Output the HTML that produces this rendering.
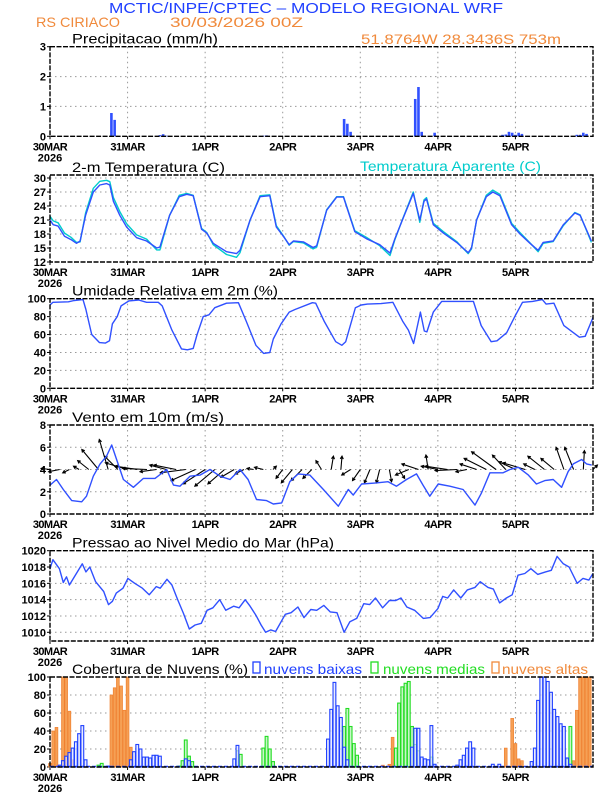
<!DOCTYPE html>
<html><head><meta charset="utf-8">
<style>
html,body{margin:0;padding:0;background:#fff;}
svg{display:block;font-family:"Liberation Sans",sans-serif;}
</style></head>
<body>
<svg id="chart" width="612" height="792" viewBox="0 0 612 792" xmlns="http://www.w3.org/2000/svg">
<text x="109" y="13" font-size="15" fill="#2040ff" textLength="394" lengthAdjust="spacingAndGlyphs">MCTIC/INPE/CPTEC – MODELO REGIONAL WRF</text>
<text x="36" y="27" font-size="14" fill="#f08a3c" textLength="84" lengthAdjust="spacingAndGlyphs">RS CIRIACO</text>
<text x="170" y="27" font-size="14" fill="#f08a3c" textLength="133" lengthAdjust="spacingAndGlyphs">30/03/2026 00Z</text>
<text x="361" y="44" font-size="14" fill="#f08a3c" textLength="200" lengthAdjust="spacingAndGlyphs">51.8764W 28.3436S 753m</text>
<g id="plots"></g>
</svg>
<script>
// ---- data (hours since 30MAR 00Z) ----
const dayLabels = ["30MAR","31MAR","1APR","2APR","3APR","4APR","5APR"];
const precipHours = [19,20,34,35,36,66,67,91,92,93,113,114,115,119,140,141,142,143,144,145,146,163,164,165,166];
const precipValues = [0.78,0.55,0.04,0.07,0.02,0.02,0.03,0.58,0.42,0.15,1.25,1.65,0.15,0.12,0.05,0.06,0.15,0.12,0.05,0.12,0.08,0.05,0.05,0.12,0.08];
const tempHours = [0,1,2.5,4.5,6.5,8.2,9.3,11,13.4,15.4,17.5,18.5,19.6,21.6,23.7,26.8,29.9,33,34,37,40,42.3,44.3,46.9,48.5,50.5,54.6,57.7,58.8,61.9,65,68,70,72.2,74,75.3,78.4,81.4,82.5,85.6,88.7,90.8,94.3,97.9,102,105.2,106.7,109.3,112.4,114.4,115.7,116.5,118.6,121.7,125.8,129.4,130.4,132,135,137,139.2,142.8,145.4,148.5,151,152.6,155.7,158.8,162.4,164,167.5];
const tempValues = [21,20,19.7,17.5,16.8,16,16.5,22,27,28.5,28.8,28.5,25,22,19.5,17.2,16.5,15,15.2,22,26,26.5,26.2,19,18.2,16,14.2,13.8,14.5,21,26,26.2,19.5,17.5,15.7,16.5,16.3,15.1,15.5,23.1,25.9,25.9,18.5,17,15.7,13.9,17,21.5,26.7,21,25,25.5,20,18.2,16.2,14,15,21,26,27,26.2,20,18,16,14.5,16.2,16.5,20,22.5,22,16.5];
const apparentValues = [21.8,20.8,20.4,18.2,17.3,16.2,16.3,22.5,27.8,29.3,29.5,29.2,25.8,22.8,20.2,17.8,16.9,14.6,14.6,22,26.3,26.7,26.3,19.2,18.3,15.7,13.6,13,14,21,26.2,26.4,19.8,17.6,15.6,16.4,16.1,14.8,15.2,23.2,26,26,18.7,17.3,15.5,13.4,16.8,21.6,27,20.5,25.3,25.8,20.3,18.5,16.4,13.8,14.8,21,26.3,27.4,26.5,20.3,18.3,16.1,14.2,16,16.4,19.8,22.6,22.1,16.2];
const rhHours = [0,0.9,5.7,7.5,10.2,11.1,12.9,15.3,17.1,18.4,19.3,20.8,22,24.4,27.4,29.9,33.5,34.7,37.7,40.7,42.5,44.3,45.5,47.4,49.2,51,54.6,58.3,60.7,63.7,66.1,68,69.1,71.5,74,75.8,81.2,82.2,84.8,88.4,90.3,91.5,94.5,96.3,98.2,102.4,106.1,109.1,110.9,112.5,114.6,115.8,116.6,118.6,121.2,131,133.4,136.5,138.3,141.3,143.8,146.2,149.3,152.3,153.5,155.9,159,163.8,165.6,168];
const rhValues = [93,96,96.5,98,99,88,60,51,50.5,53,72,80,92,97.5,98.5,96,96,92,65,44,43,44.5,60,80,82,90,95,95.5,75,48,39,40,55,72,85,88,95.5,95,75,52,48,52,90,93,94,94.5,96,75,65,50,85,64,63,85,97,97,70,52,53,62,80,96,97,99,94,95,70,57,58,79];
const windHours = [0,2,4.1,6.7,9.8,11.3,13.4,15.5,17.5,19.1,20.6,22.7,25.8,28.9,32.5,36.1,38.2,40.2,43.3,46.4,49.5,52.6,55.7,58.8,61.3,63.9,67,69.1,71.7,74.2,76.8,80.4,84.6,89.2,92.3,93.8,96.4,101,104.6,107.2,110.3,113.4,115.4,117.5,120.1,123.7,127.8,131.5,133.5,136.1,140.2,142.3,144.9,148,150.5,153.1,155.7,158.3,160.3,161.9,164.5,166,167.6];
const windSpeed = [2.6,3.1,2.2,1.2,1.1,1.6,3.4,4.5,5.2,6.2,4.9,3.1,2.4,3.2,3.2,4.0,2.6,2.5,3.4,3.5,4.0,3.4,3.1,4.0,3.1,1.3,1.2,0.9,1.0,2.9,3.6,3.5,2.2,0.7,2.2,1.7,2.7,2.8,2.9,2.5,3.1,3.6,2.6,1.6,2.7,2.5,2.2,0.8,1.9,3.7,3.7,4.0,4.2,3.5,2.7,3.0,3.1,2.4,3.8,4.5,4.9,4.5,4.4];
const arrowHours = [0,3,6,9,12,15,18,21,24,27,30,33,36,39,42,45,48,51,54,57,60,63,66,69,72,75,78,81,84,87,90,93,96,99,102,105,108,111,114,117,120,123,126,129,132,135,138,141,144,147,150,153,156,159,162,165,168];
const arrowU = [-0.8,-1,-0.6,-0.5,-1,-1.5,-0.8,-1.2,-2,-2,-2.2,-1.5,-1.5,-2,-2.3,-2.2,-2,-1.8,-1.5,-1.2,-0.8,-0.6,-0.8,0.3,-0.6,-1,-1,-0.8,-0.5,0.2,0.1,-0.8,-0.7,-0.5,-0.3,0.2,0.5,-1.2,-1.5,-0.2,-1.5,-2,-2,-1,-1.5,-2,-2.2,-1.2,-1.5,-2,-1,-1.5,-1.2,-0.7,-0.8,0.1,0.4];
const arrowV = [0.1,-0.2,-0.3,0.3,0.8,1.8,2.7,1.2,0.6,0.3,0.1,-0.2,0.4,0.4,-0.3,-1,-1.3,-1.5,-1.3,-0.7,-0.4,0.1,0.2,0.3,-0.8,-1.2,-1,-0.8,0.8,1.2,1.2,-0.5,-1,-1.2,-1.2,-1.1,-0.8,-0.5,0.5,1.3,0.3,0.3,-0.1,-0.2,0.5,1,1.6,1.3,0.7,0.6,0.5,1.2,1,2,2,1.7,0.4];
const presHours = [0,0.9,2.9,4.1,5.1,6,10,11.1,12.3,14.1,16.6,18.1,19.3,20.5,22.6,24.1,26.2,28.6,30.7,32.9,34.1,36.2,37.7,39.5,41.3,43.1,44.9,46.8,48.6,50.4,52.5,54.4,56.8,58.5,60.4,61.9,63.7,65.3,66.7,68.3,69.8,72.8,74.6,76.7,78.6,80.7,82.5,84.7,86.7,88.8,91,92.8,94.9,97.1,98.9,100.7,102.9,105,107,108.6,110.4,112.8,115.5,117.6,120,121.5,123,124.9,127.1,129.1,131.5,133.1,135.5,137.2,139.1,141.2,143,144.8,146.9,148.8,150.9,153.3,155.1,156.9,158.8,160.6,163.1,164.9,166.7,168];
const presValues = [1017.8,1018.9,1017.8,1016.1,1016.8,1015.8,1018.4,1017.4,1018,1016.2,1015,1013.4,1013.8,1014.8,1015.4,1016.6,1016,1015.4,1014.6,1015.6,1015.4,1016.5,1015.8,1014,1012.3,1010.4,1010.9,1011.1,1012.7,1013,1014,1012.7,1013.2,1013,1014,1013.2,1012.1,1010.9,1010,1010.3,1010.1,1012.2,1012.4,1013.1,1011.8,1012.8,1012.7,1013.3,1012.5,1012.4,1010,1011.3,1011.7,1013.5,1013.4,1014.2,1013,1013.9,1013.9,1014.2,1013.1,1012.7,1011.7,1011.8,1012.9,1014.4,1014.2,1015.2,1014.2,1015.2,1015.5,1016.2,1015.5,1015.3,1013.6,1014.2,1014.6,1017,1017.2,1017.8,1017.1,1017.4,1017.6,1019.3,1018.4,1018,1016,1016.6,1016.4,1017.2];
const lowHours = [3,4,5,6,7,8,9,10,11,18,25,26,27,28,29,30,31,32,33,34,42,43,57,58,86,87,88,89,90,91,92,112,113,114,115,116,117,118,119,126,127,128,129,130,131,137,139,149,150,151,152,153,154,155,156,157,158,159,160,161];
const lowValues = [2,7,12,16,21,28,37,46,8,1,8,17,25,20,11,11,10,13,13,12,9,7,9,24,31,64,94,68,55,22,8,22,43,43,11,9,8,46,3,2,8,13,21,28,21,3,3,6,21,74,101,101,95,83,64,56,48,45,10,3];
const midHours = [15,16,40,41,42,43,44,58,59,66,67,68,69,91,92,93,94,95,107,108,109,110,111,112,113,114,118,160,161];
const midValues = [2,4,1,7,30,12,6,18,14,21,34,20,6,45,65,45,26,13,21,71,89,93,95,45,25,18,11,9,45];
const highHours = [0,1,2,4,5,6,7,19,20,21,22,23,24,25,103,105,106,107,141,143,144,145,146,162,163,164,165,166,167];
const highValues = [4,40,44,100,100,62,8,80,88,100,90,63,100,22,2,3,33,13,21,54,26,9,7,7,63,100,100,100,100];

// ---- layout ----
const X0 = 50, X1 = 593, HMAX = 168;
function xs(h){ return X0 + (X1 - X0) * h / HMAX; }
function mkY(v0, y0, v1, y1){ return v => y0 + (v - v0) * (y1 - y0) / (v1 - v0); }
const NS = "http://www.w3.org/2000/svg";
const root = document.getElementById('plots');
function el(tag, attrs, parent){
  const e = document.createElementNS(NS, tag);
  for (const k in attrs) e.setAttribute(k, attrs[k]);
  (parent || root).appendChild(e);
  return e;
}
const BLUE = "#3050ff", CYAN = "#00cccc";

function panel(name, title, titleW, top, bottom, ys, ticks, fmt){
  const g = el('g', {});
  
  
  for (let d = 1; d < 7; d++){
    const l = el('line', {x1: xs(d*24), x2: xs(d*24), y1: top, y2: bottom, stroke: '#999', 'stroke-width': 1, 'stroke-dasharray': '1.5,3.5'}, g);
    
    
  }
  ticks.forEach(t => {
    const y = ys(t);
    if (y > top + 1 && y < bottom - 1){
      const l = el('line', {x1: X0, x2: X1, y1: y, y2: y, stroke: '#999', 'stroke-width': 1, 'stroke-dasharray': '1.5,3.5'}, g);
      
      
    }
    const tk = el('line', {x1: X0 - 3, x2: X0, y1: y, y2: y, stroke: '#000', 'stroke-width': 1}, g);
    
    
    const tx = el('text', {x: X0 - 4, y: y + 4, 'font-size': 11, 'text-anchor': 'end', 'font-weight': 'bold', fill: '#000'}, g);
    
    
    tx.textContent = fmt ? fmt(t) : t;
  });
  dayLabels.forEach((lab, i) => {
    const tk = el('line', {x1: xs(i*24), x2: xs(i*24), y1: bottom, y2: bottom + 3, stroke: '#000', 'stroke-width': 1}, g);
    
    
    const tx = el('text', {x: xs(i*24), y: bottom + 14, 'font-size': 11, 'text-anchor': 'middle', 'font-weight': 'bold', fill: '#000', 'letter-spacing': '-0.6'}, g);
    
    
    tx.textContent = lab;
  });
  const yr = el('text', {x: X0, y: bottom + 25, 'font-size': 11, 'text-anchor': 'middle', 'font-weight': 'bold', fill: '#000'}, g);
  
  
  yr.textContent = '2026';
  const tt = el('text', {x: 72, y: top - 3, 'font-size': 14, fill: '#000', textLength: titleW, lengthAdjust: 'spacingAndGlyphs'}, g);
  
  
  tt.textContent = title;
  return g;
}
function frame(g, top, bottom){
  const r = el('rect', {x: X0, y: top, width: X1 - X0, height: bottom - top, fill: 'none', stroke: '#000', 'stroke-width': 1.4, 'stroke-dasharray': '5,1.5'}, g);
  
  
}
function line(g, hours, vals, ys, color, name, w){
  const d = hours.map((h, i) => (i ? 'L' : 'M') + xs(h).toFixed(1) + ',' + ys(vals[i]).toFixed(1)).join('');
  const p = el('path', {d: d, fill: 'none', stroke: color, 'stroke-width': w || 1.4, 'stroke-linejoin': 'round'}, g);
  
  
}

// Precip
{
  const top = 46.7, bot = 136.3, ys = mkY(0, bot, 3, top);
  const g = panel('precipitation', 'Precipitacao (mm/h)', 146, top, bot, ys, [0,1,2,3]);
  precipHours.forEach((h, i) => {
    const b = el('rect', {x: xs(h) - 1.3, y: ys(precipValues[i]), width: 2.6, height: bot - ys(precipValues[i]), fill: BLUE}, g);
    
    
  });
  frame(g, top, bot);
}
// Temperature
{
  const top = 175, bot = 262, ys = mkY(12, 262, 30, 178);
  const g = panel('temperature', '2-m Temperatura (C)', 153, top, bot, ys, [12,15,18,21,24,27,30]);
  const lg = el('text', {x: 360, y: 171, 'font-size': 14, fill: CYAN, textLength: 181, lengthAdjust: 'spacingAndGlyphs'}, g);
  
  
  lg.textContent = 'Temperatura Aparente (C)';
  line(g, tempHours, apparentValues, ys, CYAN, 'apparent-temperature-line');
  line(g, tempHours, tempValues, ys, BLUE, 'temperature-line');
  frame(g, top, bot);
}
// RH
{
  const top = 298.7, bot = 388.3, ys = mkY(0, bot, 100, top);
  const g = panel('humidity', 'Umidade Relativa em 2m (%)', 206, top, bot, ys, [0,20,40,60,80,100]);
  line(g, rhHours, rhValues, ys, BLUE, 'humidity-line');
  frame(g, top, bot);
}
// Wind
{
  const top = 425, bot = 514, ys = mkY(0, bot, 8, top);
  const g = panel('wind', 'Vento em 10m (m/s)', 152, top, bot, ys, [0,2,4,6,8]);
  const sc = 11.1;
  arrowHours.forEach((h, i) => {
    const x0 = xs(h), y0 = ys(4);
    const x1 = x0 + arrowU[i] * sc, y1 = y0 - arrowV[i] * sc;
    const ang = Math.atan2(y1 - y0, x1 - x0);
    const hl = 3.2;
    const d = 'M' + x0 + ',' + y0 + 'L' + x1 + ',' + y1 +
      'M' + (x1 - hl*Math.cos(ang - 0.5)) + ',' + (y1 - hl*Math.sin(ang - 0.5)) + 'L' + x1 + ',' + y1 +
      'L' + (x1 - hl*Math.cos(ang + 0.5)) + ',' + (y1 - hl*Math.sin(ang + 0.5));
    const a = el('path', {d: d, stroke: '#000', 'stroke-width': 1.1, fill: 'none'}, g);
    
    
  });
  line(g, windHours, windSpeed, ys, BLUE, 'wind-speed-line');
  frame(g, top, bot);
}
// Pressure
{
  const top = 550.7, bot = 641, ys = mkY(1010, 632.3, 1020, 550.7);
  const g = panel('pressure', 'Pressao ao Nivel Medio do Mar (hPa)', 262, top, bot, ys, [1010,1012,1014,1016,1018,1020]);
  line(g, presHours, presValues, ys, BLUE, 'pressure-line');
  frame(g, top, bot);
}
// Clouds
{
  const top = 677, bot = 767, ys = mkY(0, bot, 100, top);
  const g = panel('clouds', 'Cobertura de Nuvens (%)', 176, top, bot, ys, [0,20,40,60,80,100]);
  const legends = [[253,264,'nuvens baixas','#2040ff',98,'low-cloud-legend'],[371,383,'nuvens medias','#22dd22',102,'mid-cloud-legend'],[492,502,'nuvens altas','#f08a3c',86,'high-cloud-legend']];
  legends.forEach(L => {
    const r = el('rect', {x: L[0], y: 662, width: 7, height: 11, fill: 'none', stroke: L[3], 'stroke-width': 1.3}, g);
    
    
    const t = el('text', {x: L[1], y: 674, 'font-size': 14, fill: L[3], textLength: L[4], lengthAdjust: 'spacingAndGlyphs'}, g);
    
    
    t.textContent = L[2];
  });
  highHours.forEach((h, i) => {
    const v = Math.min(highValues[i], 100);
    const b = el('rect', {x: xs(h) - 1.4, y: ys(v), width: 2.8, height: bot - ys(v), fill: '#f5a055', stroke: '#f08030', 'stroke-width': 0.7}, g);
    
    
  });
  midHours.forEach((h, i) => {
    const v = Math.min(midValues[i], 100);
    const b = el('rect', {x: xs(h) - 1.4, y: ys(v), width: 2.8, height: bot - ys(v), fill: '#c8f5c8', stroke: '#22dd22', 'stroke-width': 1.1}, g);
    
    
  });
  lowHours.forEach((h, i) => {
    const v = Math.min(lowValues[i], 100);
    const b = el('rect', {x: xs(h) - 1.4, y: ys(v), width: 2.8, height: bot - ys(v), fill: '#dfe4ff', 'fill-opacity': 0.7, stroke: '#2040ff', 'stroke-width': 1.1}, g);
    
    
  });
  const bl = el('line', {x1: X0, x2: X1, y1: bot - 0.5, y2: bot - 0.5, stroke: '#2040ff', 'stroke-width': 1.5, 'stroke-dasharray': '4,2'}, g);
  
  
  frame(g, top, bot);
}
</script>
</body></html>
